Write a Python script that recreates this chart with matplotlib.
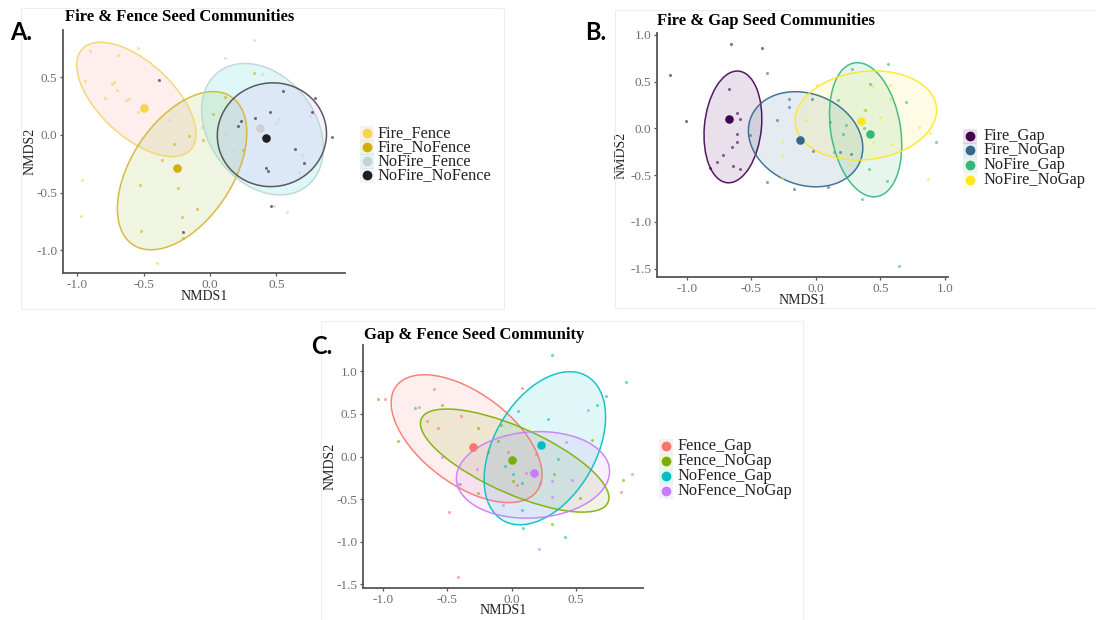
import matplotlib
matplotlib.use("Agg")
import numpy as np
import matplotlib.pyplot as plt
from matplotlib.patches import Ellipse, Rectangle
from matplotlib.lines import Line2D
from matplotlib.ticker import FormatStrFormatter

plt.rcParams['font.family'] = ['Liberation Serif', 'DejaVu Serif']
plt.rcParams['axes.unicode_minus'] = False

W, H = 1096, 620

hue = ['#F8766D', '#7CAE00', '#00BFC4', '#C77CFF']
viridis = ['#440154', '#31688E', '#35B779', '#FDE725']

# ---------------- A: fire x fence ----------------
a_groups = ['Fire_Fence', 'Fire_NoFence', 'NoFire_Fence', 'NoFire_NoFence']
a_pts = ['#F3D54E', '#D1AE0B', '#CFCFCF', '#1F1F1F']
a_lines = ['#F0D66A', '#D6B42E', '#BDD5D5', '#4A4A4A']
a_x = [
    [-0.90, -0.94, -0.69, -0.54, -0.74, -0.72, -0.70, -0.79, -0.63, -0.61, -0.54, -0.96, -0.97, -0.40],
    [-0.53, -0.52, -0.24, -0.21, -0.20, -0.10, -0.16, -0.05, -0.27, -0.36, 0.02, 0.11, 0.33, 0.25],
    [0.33, 0.11, 0.39, -0.06, 0.11, 0.52, 0.50, 0.69, 0.75, 0.67, 0.48, 0.58, 0.18, -0.31],
    [-0.38, -0.20, 0.23, 0.21, 0.34, 0.45, 0.55, 0.77, 0.79, 0.64, 0.71, 0.42, 0.44, 0.46, 0.92],
]
a_y = [
    [0.73, 0.47, 0.69, 0.75, 0.44, 0.46, 0.39, 0.32, 0.30, 0.31, 0.20, -0.39, -0.70, -1.11],
    [-0.43, -0.83, -0.46, -0.71, -0.89, -0.64, -0.01, -0.04, -0.08, -0.22, 0.18, 0.33, 0.54, -0.13],
    [0.82, 0.67, 0.53, 0.07, 0.01, 0.14, 0.10, -0.17, 0.16, -0.32, -0.62, -0.67, -0.13, 0.13],
    [0.48, -0.84, 0.12, 0.08, 0.15, 0.20, 0.38, 0.20, 0.32, -0.12, -0.24, -0.29, -0.31, -0.62, -0.02],
]
a_cen_x = [-0.50, -0.25, 0.38, 0.42]
a_cen_y = [0.23, -0.29, 0.06, -0.03]
# ellipse: centre, half-extent along x / y, correlation
a_ell_x = [-0.554, -0.21, 0.395, 0.466]
a_ell_y = [0.308, -0.31, 0.05, 0.002]
a_ell_sx = [0.449, 0.487, 0.458, 0.411]
a_ell_sy = [0.496, 0.686, 0.57, 0.45]
a_ell_r = [-0.60, 0.48, -0.29, 0.02]

# ---------------- B: fire x gap ----------------
b_groups = ['Fire_Gap', 'Fire_NoGap', 'NoFire_Gap', 'NoFire_NoGap']
b_x = [
    [-1.13, -1.01, -0.66, -0.42, -0.67, -0.61, -0.59, -0.61, -0.61, -0.65, -0.72, -0.77, -0.82, -0.64, -0.59],
    [-0.38, -0.21, -0.21, -0.30, -0.38, -0.51, -0.17, -0.03, 0.09, -0.02, 0.27, 0.19],
    [0.28, 0.56, 0.42, 0.38, 0.23, 0.21, 0.11, 0.17, 0.37, 0.41, 0.55, 0.36, 0.70, 0.93, 0.64, 0.14],
    [0.01, -0.08, -0.26, -0.26, -0.26, 0.44, 0.57, 0.57, 0.50, 0.44, 0.59, 0.80, 0.88, 0.87, 0.26, 0.37],
]
b_y = [
    [0.57, 0.08, 0.90, 0.86, 0.42, 0.17, 0.10, -0.06, -0.15, -0.20, -0.28, -0.36, -0.42, -0.40, -0.43],
    [0.59, 0.31, 0.23, 0.09, -0.57, -0.07, -0.65, 0.31, -0.63, -0.24, -0.27, -0.25],
    [0.64, 0.69, 0.48, 0.20, 0.04, -0.06, 0.07, 0.30, 0.00, -0.43, -0.56, -0.76, 0.28, -0.15, -1.47, -0.25],
    [0.46, 0.09, -0.15, -0.29, -0.53, 0.45, 0.46, 0.31, 0.12, -0.16, -0.17, 0.01, -0.05, -0.54, -0.38, 0.20],
]
b_cen_x = [-0.67, -0.12, 0.42, 0.35]
b_cen_y = [0.10, -0.12, -0.06, 0.08]
b_ell_x = [-0.643, -0.08, 0.385, 0.387]
b_ell_y = [0.016, -0.116, -0.014, 0.138]
b_ell_sx = [0.224, 0.443, 0.28, 0.548]
b_ell_sy = [0.598, 0.509, 0.718, 0.477]
b_ell_r = [0.15, -0.18, -0.23, 0.12]

# ---------------- C: gap x fence ----------------
c_groups = ['Fence_Gap', 'Fence_NoGap', 'NoFence_Gap', 'NoFence_NoGap']
c_x = [
    [-0.98, -0.72, -0.60, -0.66, -0.57, -0.39, 0.08, -0.49, -0.42, 0.04, 0.19, 0.85, -0.03, -0.40],
    [-1.04, -0.54, -0.88, -0.26, -0.08, -0.11, -0.18, -0.26, 0.01, 0.33, 0.62, 0.53, 0.86, 0.31],
    [-0.75, 0.31, 0.89, 0.73, 0.66, 0.05, 0.28, -0.05, 0.01, 0.08, 0.08, 0.09, 0.41, 0.36],
    [-0.54, -0.41, -0.07, -0.27, 0.11, 0.22, 0.31, 0.42, 0.59, 0.47, 0.93, 0.21, 0.31],
]
c_y = [
    [0.68, 0.58, 0.79, 0.42, 0.34, 0.48, 0.81, -0.65, -1.41, -0.33, 0.03, -0.41, 0.05, -0.32],
    [0.68, 0.60, 0.18, 0.34, 0.37, 0.18, 0.05, -0.43, -0.29, -0.20, 0.20, -0.49, -0.27, -0.79],
    [0.57, 1.19, 0.88, 0.71, 0.61, 0.54, 0.44, -0.11, -0.20, -0.31, -0.63, -0.84, -0.94, -0.03],
    [-0.01, -0.32, -0.57, -0.14, -0.19, -0.31, -0.48, 0.17, 0.55, -0.27, -0.20, -1.09, -0.29],
]
c_cen_x = [-0.30, 0.00, 0.23, 0.17]
c_cen_y = [0.11, -0.04, 0.14, -0.19]
c_ell_x = [-0.35, 0.023, 0.257, 0.165]
c_ell_y = [0.21, -0.047, 0.098, -0.215]
c_ell_sx = [0.585, 0.731, 0.471, 0.594]
c_ell_sy = [0.75, 0.605, 0.898, 0.508]
c_ell_r = [-0.56, -0.72, 0.41, 0.08]


def fx(px):
    return px / W


def fy(py):
    return 1 - py / H


def ellipse(cx, cy, sx, sy, r, **kw):
    # shape matrix -> axes lengths and rotation
    m = np.array([[sx * sx, r * sx * sy], [r * sx * sy, sy * sy]])
    vals, vecs = np.linalg.eigh(m)
    ang = np.degrees(np.arctan2(vecs[1, 1], vecs[0, 1]))
    return Ellipse((cx, cy), 2 * np.sqrt(vals[1]), 2 * np.sqrt(vals[0]), angle=ang, **kw)


fig = plt.figure(figsize=(W / 100, H / 100), dpi=100)
fig.patch.set_facecolor('white')

# faint frames of the three panels
for x0, y0, x1, y1 in [(21, 8, 504, 309), (615, 10, 1100, 308), (321, 321, 803, 625)]:
    fig.add_artist(Rectangle((fx(x0), fy(y1)), fx(x1 - x0), (y1 - y0) / H,
                             transform=fig.transFigure, fill=False,
                             edgecolor='#EEEEEE', lw=0.8))


def panel(box, xlim, ylim, xticks, yticks, xs, ys, cx, cy,
          ex, ey, esx, esy, er, pcols, lcols, fcols, ylab_x, xlab_y):
    left, top, right, bottom = box
    ax = fig.add_axes([fx(left), fy(bottom), (right - left) / W, (bottom - top) / H])
    ax.set_xlim(*xlim)
    ax.set_ylim(*ylim)
    for i in range(4):
        ax.add_patch(ellipse(ex[i], ey[i], esx[i], esy[i], er[i],
                             facecolor=fcols[i], alpha=0.12, edgecolor='none', zorder=1))
    for i in range(4):
        ax.add_patch(ellipse(ex[i], ey[i], esx[i], esy[i], er[i],
                             facecolor='none', edgecolor=lcols[i], lw=1.1, alpha=0.9, zorder=2))
    for i in range(4):
        ax.scatter(xs[i], ys[i], s=5, color=pcols[i], alpha=0.6, lw=0, zorder=3)
    for i in range(4):
        ax.scatter([cx[i]], [cy[i]], s=38, color=pcols[i], lw=0, zorder=4)
    ax.set_xticks(xticks)
    ax.set_yticks(yticks)
    ax.xaxis.set_major_formatter(FormatStrFormatter('%.1f'))
    ax.yaxis.set_major_formatter(FormatStrFormatter('%.1f'))
    for s in ['top', 'right']:
        ax.spines[s].set_visible(False)
    for s in ['left', 'bottom']:
        ax.spines[s].set_color('#555555')
        ax.spines[s].set_linewidth(1.3)
    ax.tick_params(direction='out', length=2.5, width=0.9, color='#555555',
                   labelcolor='#6E6E6E', labelsize=9.5, pad=1.5)
    ax.set_xlabel('NMDS1', fontsize=10, color='#222222')
    ax.set_ylabel('NMDS2', fontsize=10, color='#222222')
    ax.yaxis.set_label_coords((ylab_x - left) / (right - left), 0.5)
    ax.xaxis.set_label_coords(0.5, (bottom - xlab_y) / (bottom - top))
    return ax


def legend(groups, pcols, fcols, key_x, text_x, row_y):
    for i, g in enumerate(groups):
        fig.add_artist(Rectangle((fx(key_x - 7), fy(row_y[i] + 7.5)), 14 / W, 15 / H,
                                 transform=fig.transFigure, facecolor=fcols[i],
                                 alpha=0.12, edgecolor='none'))
        fig.add_artist(Line2D([fx(key_x)], [fy(row_y[i])], marker='o', ms=6,
                              color=pcols[i], lw=0, transform=fig.transFigure))
        fig.text(fx(text_x), fy(row_y[i]), g, fontsize=11.8, color='#222222',
                 va='center', ha='left')


panel((63, 30, 345, 273), (-1.106, 1.016), (-1.197, 0.91),
      [-1.0, -0.5, 0.0, 0.5], [-1.0, -0.5, 0.0, 0.5],
      a_x, a_y, a_cen_x, a_cen_y, a_ell_x, a_ell_y, a_ell_sx, a_ell_sy, a_ell_r,
      a_pts, a_lines, hue, 37, 290)
panel((657, 33, 948, 277), (-1.231, 1.023), (-1.59, 1.021),
      [-1.0, -0.5, 0.0, 0.5, 1.0], [-1.5, -1.0, -0.5, 0.0, 0.5, 1.0],
      b_x, b_y, b_cen_x, b_cen_y, b_ell_x, b_ell_y, b_ell_sx, b_ell_sy, b_ell_r,
      viridis, viridis, viridis, 628, 294)
panel((363, 345, 643, 588), (-1.153, 1.018), (-1.542, 1.309),
      [-1.0, -0.5, 0.0, 0.5], [-1.5, -1.0, -0.5, 0.0, 0.5, 1.0],
      c_x, c_y, c_cen_x, c_cen_y, c_ell_x, c_ell_y, c_ell_sx, c_ell_sy, c_ell_r,
      hue, hue, hue, 337, 604)

legend(a_groups, a_pts, hue, 367, 378, [133, 147, 161, 175])
legend(b_groups, viridis, viridis, 970, 983, [136, 150, 165, 180])
legend(c_groups, hue, hue, 666, 677, [446, 461, 476, 491])

# panel titles
fig.text(fx(65), fy(21), 'Fire & Fence Seed Communities', fontsize=12, fontweight='bold', va='baseline')
fig.text(fx(657), fy(25), 'Fire & Gap Seed Communities', fontsize=12, fontweight='bold', va='baseline')
fig.text(fx(364), fy(339), 'Gap & Fence Seed Community', fontsize=12, fontweight='bold', va='baseline')

# panel letters
for lx, ly, s in [(10, 40, 'A.'), (585, 40, 'B.'), (311, 354, 'C.')]:
    fig.text(fx(lx), fy(ly), s, fontsize=17, fontweight='bold', family='Lato',
             va='baseline', ha='left', color='black')

fig.savefig('out.png', dpi=100)
